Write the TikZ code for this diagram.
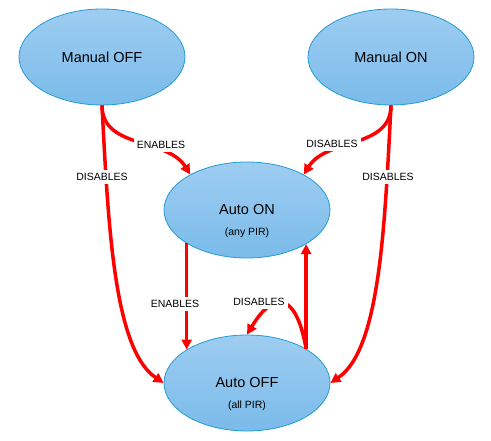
\documentclass[tikz,border=0pt]{standalone}
\usepackage{fontspec}
\setmainfont{Liberation Sans}
\usetikzlibrary{shapes.geometric, arrows.meta}
\definecolor{mytop}{RGB}{158,205,241}
\definecolor{mybottom}{RGB}{122,187,234}
\definecolor{myborder}{RGB}{35,155,212}
\definecolor{myred}{RGB}{255,0,0}
\tikzset{
  state/.style={ellipse, draw=myborder, line width=0.8pt, top color=mytop,
    bottom color=mybottom, minimum width=166pt, minimum height=96pt,
    inner sep=0, font=\fontsize{14.5}{17}\selectfont},
  sub/.style={inner sep=0, font=\fontsize{10.5}{12}\selectfont},
  link/.style={->, line width=3.5pt, color=myred},
  lbl/.style={fill=white, inner sep=3pt, font=\fontsize{10.5}{12}\selectfont}
}

\begin{document}
\begin{tikzpicture}[x=1pt, y=1pt, >={Triangle[length=10pt,width=10pt]}]

\useasboundingbox (0,0) rectangle (491,-441);

\node [state] (moff) at (102,-57) {Manual OFF};
\node [state] (mon) at (391,-57) {Manual ON};
\node [state] (autoon) at (247,-210) {Auto ON};
\node [state] (autooff) at (247,-383) {Auto OFF};
\node [sub] (autoonsub) at (247,-233) {(any PIR)};
\node [sub] (autooffsub) at (247,-406) {(all PIR)};


\draw[link] (moff.south) to[out=-90, in=122] (autoon.148);
\draw[link] (moff.south) .. controls +(-87:120) and +(146:60) .. (autooff.west);

\draw[link] (mon.south) to[out=-90, in=58] (autoon.32);
\draw[link] (mon.south) .. controls +(-93:120) and +(34:60) .. (autooff.east);

\draw[link] (autoon.-151) -- (autooff.151);
\draw[link] (autooff.30) -- (autoon.-30);
\draw[link] (autooff.30) .. controls +(100:62) and +(59:48) .. (autooff.north);


\node [lbl] (enables1) at (161,-145) {ENABLES};
\node [lbl] (disables1) at (332,-144) {DISABLES};
\node [lbl] (disables2) at (102,-177) {DISABLES};
\node [lbl] (disables3) at (388,-177) {DISABLES};
\node [lbl] (enables2) at (175,-304) {ENABLES};
\node [lbl] (disables4) at (259,-302) {DISABLES};

\end{tikzpicture}
\end{document}
